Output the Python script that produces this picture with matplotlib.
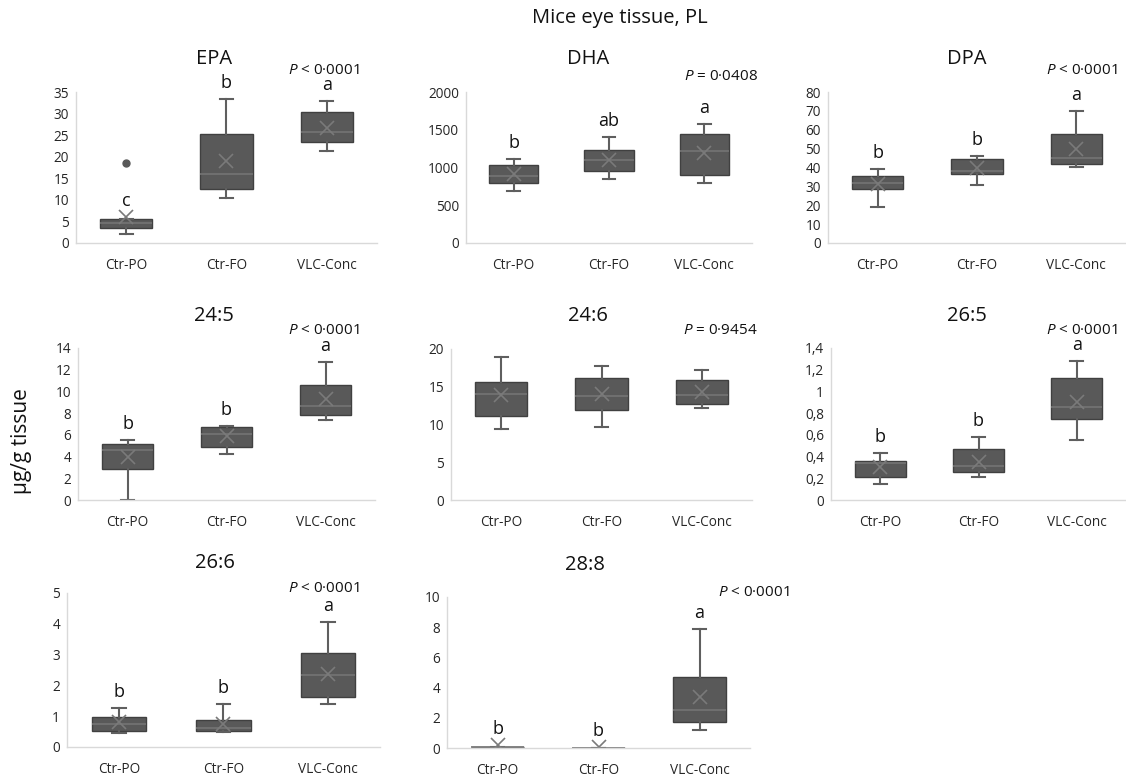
import matplotlib
matplotlib.use('Agg')
import matplotlib.pyplot as plt
from matplotlib.ticker import MultipleLocator, FuncFormatter

plt.rcParams['font.family'] = ['Open Sans', 'DejaVu Sans']
plt.rcParams['mathtext.fontset'] = 'custom'
plt.rcParams['mathtext.it'] = 'Open Sans:italic'
plt.rcParams['mathtext.rm'] = 'Open Sans'

GROUPS = ['Ctr-PO', 'Ctr-FO', 'VLC-Conc']

# per group: whisker low, Q1, median, Q3, whisker high
EPA_BOX = [[2.2, 3.5, 4.6, 5.6, 5.6], [10.4, 12.6, 15.9, 25.3, 33.3], [21.3, 23.5, 25.7, 30.3, 32.9]]
EPA_MEAN = [6.0, 18.9, 26.7]
EPA_OUT = [[18.5], [], []]
EPA_LET = ['c', 'b', 'a']

DHA_BOX = [[693, 795, 892, 1029, 1117], [848, 949, 1104, 1227, 1404], [799, 905, 1219, 1448, 1581]]
DHA_MEAN = [909, 1104, 1192]
DHA_LET = ['b', 'ab', 'a']

DPA_BOX = [[19.0, 28.5, 31.6, 35.5, 39.0], [30.8, 36.4, 38.3, 44.6, 46.0], [40.4, 41.7, 44.8, 57.5, 69.8]]
DPA_MEAN = [31.3, 39.5, 50.0]
DPA_LET = ['b', 'b', 'a']

C245_BOX = [[0.0, 2.9, 4.6, 5.17, 5.5], [4.2, 4.9, 6.1, 6.7, 6.8], [7.4, 7.8, 8.7, 10.6, 12.7]]
C245_MEAN = [4.0, 5.85, 9.3]
C245_LET = ['b', 'b', 'a']

C246_BOX = [[9.4, 11.1, 14.0, 15.6, 19.0], [9.7, 11.9, 13.8, 16.2, 17.7], [12.2, 12.7, 13.9, 15.9, 17.2]]
C246_MEAN = [13.9, 14.1, 14.3]
C246_LET = ['', '', '']

C265_BOX = [[0.15, 0.21, 0.34, 0.355, 0.43], [0.21, 0.26, 0.31, 0.47, 0.58], [0.55, 0.75, 0.86, 1.12, 1.28]]
C265_MEAN = [0.30, 0.35, 0.90]
C265_LET = ['b', 'b', 'a']

C266_BOX = [[0.47, 0.52, 0.74, 0.98, 1.27], [0.50, 0.52, 0.63, 0.88, 1.40], [1.40, 1.62, 2.33, 3.06, 4.06]]
C266_MEAN = [0.80, 0.74, 2.36]
C266_LET = ['b', 'b', 'a']

C288_BOX = [[0.03, 0.04, 0.05, 0.06, 0.07], [0.01, 0.02, 0.02, 0.03, 0.03], [1.2, 1.75, 2.5, 4.7, 7.9]]
C288_MEAN = [0.18, 0.09, 3.38]
C288_LET = ['b', 'b', 'a']

TITLES = ['EPA', 'DHA', 'DPA', '24:5', '24:6', '26:5', '26:6', '28:8']
P_TEXT = ['< 0·0001', '= 0·0408', '< 0·0001', '< 0·0001', '= 0·9454', '< 0·0001', '< 0·0001', '< 0·0001']

PANELS = [
    (EPA_BOX, EPA_MEAN, EPA_OUT, EPA_LET),
    (DHA_BOX, DHA_MEAN, None, DHA_LET),
    (DPA_BOX, DPA_MEAN, None, DPA_LET),
    (C245_BOX, C245_MEAN, None, C245_LET),
    (C246_BOX, C246_MEAN, None, C246_LET),
    (C265_BOX, C265_MEAN, None, C265_LET),
    (C266_BOX, C266_MEAN, None, C266_LET),
    (C288_BOX, C288_MEAN, None, C288_LET),
]

# layout (pixels): axes rect left, top, right, bottom ; y max, tick step
W, H = 1126, 781
AX_RECT = [(76, 92, 377, 243), (466, 92, 752, 243), (828, 92, 1126, 243),
           (78, 348, 375, 500), (451, 349, 752, 500), (831, 348, 1126, 500),
           (67, 593, 380, 747), (447, 597, 750, 748)]
Y_MAX = [35, 2000, 80, 14, 20, 1.4, 5, 10]
Y_STEP = [5, 500, 10, 2, 5, 0.2, 1, 2]
TITLE_XY = [(214, 59), (588, 59), (967, 59), (214, 316), (588, 316), (967, 316), (215, 563), (585, 565)]
P_XY = [(360, 70), (758, 76), (1118, 70), (360, 330), (758, 331), (1118, 330), (360, 588), (790, 592)]

BOX_FC = '#595959'
BOX_EC = '#404040'
LINE_C = '#5f5f5f'

fig = plt.figure(figsize=(W / 100, H / 100), dpi=100)
fmt = FuncFormatter(lambda v, _: f'{v:g}'.replace('.', ','))

for i, (box, mean, out, letters) in enumerate(PANELS):
    l, t, r, b = AX_RECT[i]
    ax = fig.add_axes([l / W, 1 - b / H, (r - l) / W, (b - t) / H])

    stats = []
    for j in range(3):
        lo, q1, med, q3, hi = box[j]
        stats.append(dict(whislo=lo, q1=q1, med=med, q3=q3, whishi=hi,
                          mean=mean[j], fliers=out[j] if out else []))
    ax.bxp(stats, positions=[1, 2, 3], widths=0.52, capwidths=0.13,
           patch_artist=True, showmeans=True,
           boxprops=dict(facecolor=BOX_FC, edgecolor=BOX_EC, linewidth=1),
           medianprops=dict(color='#747474', linewidth=1.2),
           whiskerprops=dict(color=LINE_C, linewidth=1.5),
           capprops=dict(color=LINE_C, linewidth=1.5),
           meanprops=dict(marker='x', markeredgecolor='#7a7a7a', markersize=10, markeredgewidth=1.2),
           flierprops=dict(marker='o', markerfacecolor=BOX_FC, markeredgecolor=BOX_FC, markersize=5))

    for j, let in enumerate(letters):
        if let:
            top = max(box[j][4], mean[j])
            ax.annotate(let, (j + 1, top), xytext=(0, 5), textcoords='offset points',
                        ha='center', va='bottom', fontsize=13, color='#111111',
                        annotation_clip=False)

    ax.set_xlim(0.5, 3.5)
    ax.set_ylim(0, Y_MAX[i])
    ax.yaxis.set_major_locator(MultipleLocator(Y_STEP[i]))
    ax.yaxis.set_major_formatter(fmt)
    ax.set_xticks([1, 2, 3])
    ax.set_xticklabels(GROUPS)
    ax.tick_params(length=0, labelsize=9.8, colors='#262626')
    ax.tick_params(axis='x', pad=11)
    ax.tick_params(axis='y', pad=5)
    for s in ['top', 'right']:
        ax.spines[s].set_visible(False)
    for s in ['left', 'bottom']:
        ax.spines[s].set_color('#d9d9d9')
        ax.spines[s].set_linewidth(1)
    ax.patch.set_alpha(0)

    tx, ty = TITLE_XY[i]
    fig.text(tx / W, 1 - ty / H, TITLES[i], ha='center', va='center', fontsize=14.5, color='#111111')
    px, py = P_XY[i]
    fig.text(px / W, 1 - py / H, r'$\it{P}$ ' + P_TEXT[i], ha='right', va='center',
             fontsize=11, color='#111111')

fig.text(620 / W, 1 - 18 / H, 'Mice eye tissue, PL', ha='center', va='center', fontsize=14.5, color='#111111')
fig.text(22 / W, 1 - 441 / H, 'µg/g tissue', ha='center', va='center', rotation=90, fontsize=15, color='#111111')

fig.savefig('out.png', dpi=100, facecolor='white')
